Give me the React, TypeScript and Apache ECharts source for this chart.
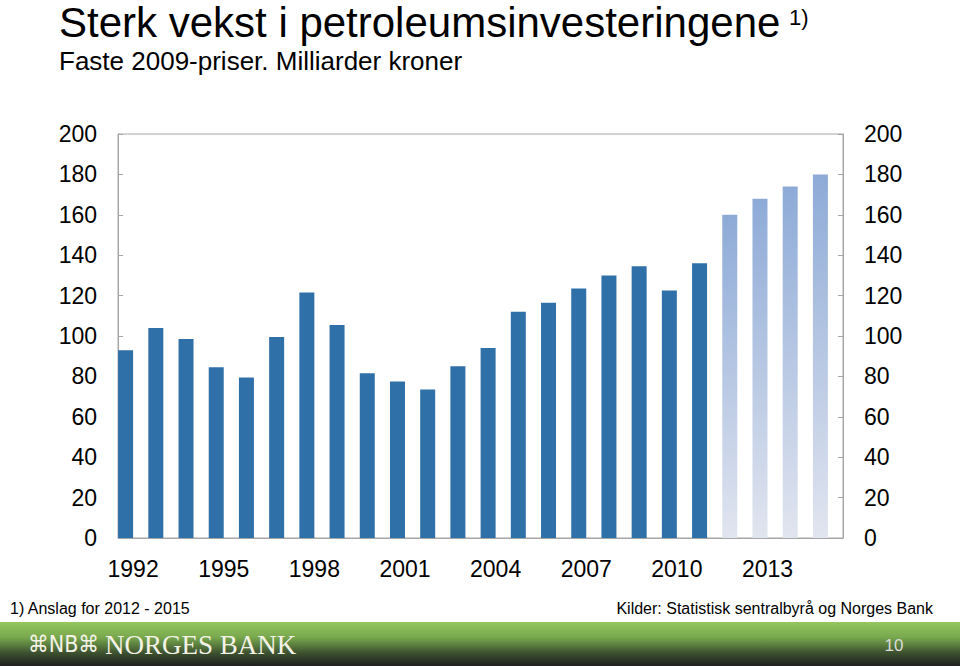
import React, { useEffect, useRef } from "react";
import * as echarts from "echarts";

const years = ["1992","1993","1994","1995","1996","1997","1998","1999","2000","2001","2002","2003","2004","2005","2006","2007","2008","2009","2010","2011","2012","2013","2014","2015"];
const investments = [93, 104, 98.5, 84.5, 79.5, 99.5, 121.5, 105.5, 81.5, 77.5, 73.5, 85, 94, 112, 116.5, 123.5, 130, 134.5, 122.5, 136, 160, 168, 174, 180];
const forecastFrom = "2012";
const titleText = "Sterk vekst i petroleumsinvesteringene";
const titleNote = "1)";
const subtitleText = "Faste 2009-priser. Milliarder kroner";
const footnoteText = "1) Anslag for 2012 - 2015";
const sourceText = "Kilder: Statistisk sentralbyrå og Norges Bank";
const pageNumber = "10";

const FONT = "'Liberation Sans', Arial, Helvetica, sans-serif";

export default function App() {
  const ref = useRef<HTMLDivElement>(null);
  useEffect(() => {
    if (!ref.current) return;
    const chart = echarts.init(ref.current, null, { renderer: "svg" });
    const forecastIdx = years.indexOf(forecastFrom);
    const barData = investments.map((v, i) =>
      i >= forecastIdx
        ? {
            value: v,
            itemStyle: {
              color: new echarts.graphic.LinearGradient(0, 0, 0, 1, [
                { offset: 0, color: "#8daad7" },
                { offset: 1, color: "#e1e5ef" },
              ]),
            },
          }
        : { value: v }
    );
    const yAxisCommon = {
      type: "value",
      min: 0,
      max: 200,
      interval: 20,
      splitLine: { show: false },
      axisLine: { show: true, lineStyle: { color: "#a6a6a6", width: 1 } },
      axisTick: { show: true, inside: true, length: 5, lineStyle: { color: "#a6a6a6" } },
    };
    chart.setOption({
      animation: false,
      backgroundColor: "#ffffff",
      grid: {
        left: 118,
        right: 117,
        top: 134,
        bottom: 128,
        show: true,
        borderColor: "#a6a6a6",
        borderWidth: 1,
        containLabel: false,
      },
      xAxis: {
        type: "category",
        data: years,
        axisLine: { show: true, lineStyle: { color: "#a6a6a6" } },
        axisTick: { show: false },
        axisLabel: {
          interval: 2,
          color: "#000",
          fontFamily: FONT,
          fontSize: 23,
          margin: 19,
        },
      },
      yAxis: [
        {
          ...yAxisCommon,
          position: "left",
          axisLabel: { color: "#000", fontFamily: FONT, fontSize: 23, margin: 21 },
        },
        {
          ...yAxisCommon,
          position: "right",
          axisLabel: { color: "#000", fontFamily: FONT, fontSize: 23, margin: 21 },
        },
      ],
      series: [
        {
          type: "bar",
          data: barData,
          barWidth: 15,
          barGap: "0%",
          itemStyle: { color: "#3070a9" },
          silent: true,
        },
        {
          type: "bar",
          data: years.map(() => "-"),
          barWidth: 15,
          barGap: "0%",
          silent: true,
        },
      ],
      graphic: [
        {
          type: "text",
          x: 59,
          y: 22,
          style: { text: titleText, font: `42px ${FONT}`, fill: "#000", verticalAlign: "middle" },
        },
        {
          type: "text",
          x: 789,
          y: 17,
          style: { text: titleNote, font: `22px ${FONT}`, fill: "#000", verticalAlign: "middle" },
        },
        {
          type: "text",
          x: 59,
          y: 61,
          style: { text: subtitleText, font: `26px ${FONT}`, fill: "#000", verticalAlign: "middle" },
        },
        {
          type: "text",
          x: 10,
          y: 608,
          style: { text: footnoteText, font: `16px ${FONT}`, fill: "#000", verticalAlign: "middle" },
        },
        {
          type: "text",
          x: 933,
          y: 608,
          style: { text: sourceText, font: `16px ${FONT}`, fill: "#000", verticalAlign: "middle", align: "right" },
        },
        {
          type: "rect",
          shape: { x: 0, y: 622, width: 960, height: 44 },
          style: {
            fill: new echarts.graphic.LinearGradient(0, 0, 0, 1, [
              { offset: 0, color: "#95c65f" },
              { offset: 0.35, color: "#78a84d" },
              { offset: 0.7, color: "#3d5230" },
              { offset: 1, color: "#1f1f1f" },
            ]),
          },
        },
        {
          type: "text",
          x: 28,
          y: 644,
          style: { text: "⌘NB⌘", font: `23px 'DejaVu Sans Condensed', 'DejaVu Sans', sans-serif`, fill: "#f4f2e6", verticalAlign: "middle" },
        },
        {
          type: "text",
          x: 105,
          y: 645,
          style: { text: "NORGES BANK", font: `27px 'Liberation Serif', 'DejaVu Serif', serif`, fill: "#f4f2e6", verticalAlign: "middle" },
        },
        {
          type: "text",
          x: 894,
          y: 645,
          style: { text: pageNumber, font: `17px ${FONT}`, fill: "#dcdcdc", verticalAlign: "middle", align: "center" },
        },
      ],
    });
    return () => chart.dispose();
  }, []);
  return (
    <div
      ref={ref}
      style={{ position: "absolute", left: 0, top: 0, width: 960, height: 666 }}
    />
  );
}
